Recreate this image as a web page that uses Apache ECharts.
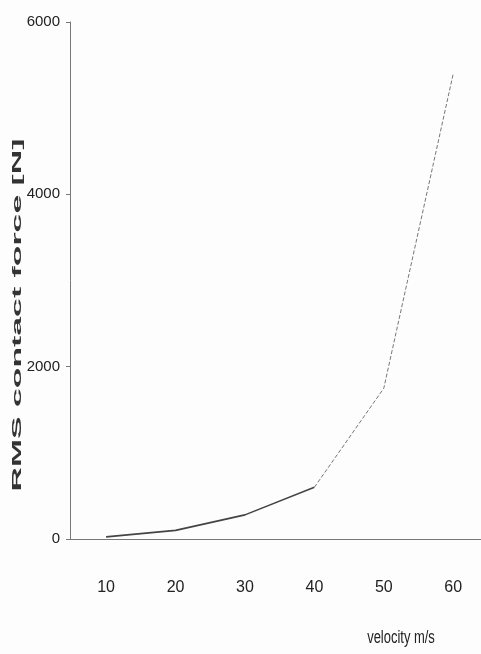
<!DOCTYPE html>
<html>
<head>
<meta charset="utf-8">
<script src="https://cdn.jsdelivr.net/npm/echarts@6/dist/echarts.min.js"></script>
<style>
html,body{margin:0;padding:0;background:#fdfdfd;}
#chart{width:481px;height:654px;}
</style>
</head>
<body>
<div id="chart"></div>
<script>
// Data
const velocities = [10, 20, 30, 40, 50, 60];
const rmsForce = [25, 100, 280, 600, 1750, 5400];
const xTickLabels = [10, 20, 30, 40, 50, 60];
const yTickValues = [0, 2000, 4000, 6000];
const yAxisTitle = 'RMS contact force [N]';
const xAxisTitle = 'velocity m/s';

const solidIdx = [0, 1, 2, 3];
const dashedIdx = [3, 4, 5];
const solidData = solidIdx.map(i => [velocities[i], rmsForce[i]]);
const dashedData = dashedIdx.map(i => [velocities[i], rmsForce[i]]);

const labelFont = "'Liberation Sans', Arial, sans-serif";

const chart = echarts.init(document.getElementById('chart'), null, {renderer: 'canvas'});
chart.setOption({
  backgroundColor: '#fdfdfd',
  animation: false,
  grid: {left: 70, right: 0, top: 22, bottom: 115, containLabel: false},
  xAxis: {
    type: 'value',
    min: 4.8,
    max: 64,
    axisLine: {show: true, onZero: false, lineStyle: {color: '#777', width: 1}},
    axisTick: {show: false},
    splitLine: {show: false},
    axisLabel: {
      customValues: xTickLabels,
      margin: 41,
      color: '#222',
      fontFamily: labelFont,
      fontSize: 16
    }
  },
  yAxis: {
    type: 'value',
    min: yTickValues[0],
    max: yTickValues[yTickValues.length - 1],
    interval: yTickValues[1] - yTickValues[0],
    axisLine: {show: true, lineStyle: {color: '#777', width: 1}},
    axisTick: {show: true, length: 4, lineStyle: {color: '#777'}},
    splitLine: {show: false},
    axisLabel: {
      margin: 10,
      color: '#222',
      fontFamily: labelFont,
      fontSize: 15,
      formatter: v => String(v)
    }
  },
  graphic: [
    {
      type: 'text',
      x: 17, y: 315,
      rotation: Math.PI / 2,
      scaleX: 2.6, scaleY: 1,
      style: {
        text: yAxisTitle,
        font: "bold 13px 'Liberation Sans', Arial, sans-serif",
        fill: '#333',
        align: 'center',
        verticalAlign: 'middle'
      }
    },
    {
      type: 'text',
      x: 401, y: 638,
      scaleX: 0.72, scaleY: 1,
      style: {
        text: xAxisTitle,
        font: "18px 'Liberation Sans', Arial, sans-serif",
        fill: '#222',
        align: 'center',
        verticalAlign: 'middle'
      }
    }
  ],
  series: [
    {
      type: 'line',
      data: solidData,
      showSymbol: false,
      lineStyle: {color: '#444', width: 1.6, type: 'solid'}
    },
    {
      type: 'line',
      data: dashedData,
      showSymbol: false,
      lineStyle: {color: '#777', width: 1, type: [4, 2]}
    }
  ]
});
</script>
</body>
</html>
